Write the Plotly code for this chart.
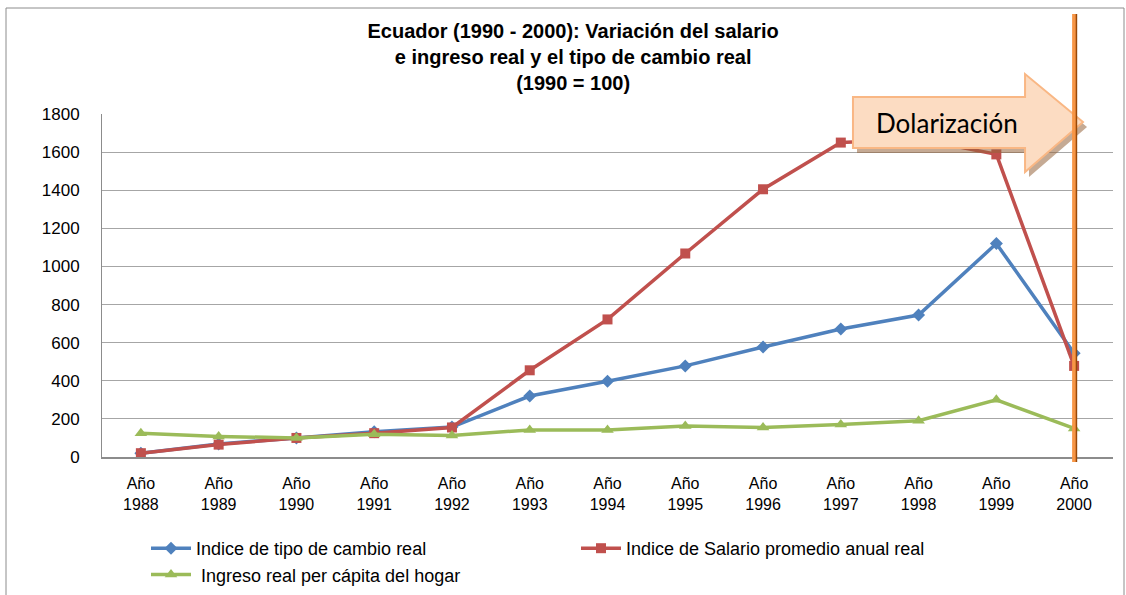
import plotly.graph_objects as go

# data (1990 = 100)
years = ["1988", "1989", "1990", "1991", "1992", "1993", "1994",
         "1995", "1996", "1997", "1998", "1999", "2000"]
tick_labels = ["Año<br>" + y for y in years]

tipo_cambio = [20, 68, 100, 132, 157, 320, 398, 478, 577, 672, 745, 1120, 545]
salario = [20, 65, 100, 125, 155, 455, 722, 1068, 1405, 1650, 1668, 1588, 478]
ingreso = [125, 108, 100, 120, 113, 142, 142, 163, 155, 170, 190, 300, 150]

x = list(range(len(years)))

# plot area in pixels -> paper helper for decorations
W, H = 1126, 595
L, R, T, B = 102, 1113, 114, 457


def px(xp):
    return (xp - L) / (R - L)


def py(yp):
    return (B - yp) / (B - T)


fig = go.Figure()
fig.add_trace(go.Scatter(x=x, y=tipo_cambio, name="Indice de tipo de cambio real",
                         mode="lines+markers",
                         line=dict(color="#4F81BD", width=3.5),
                         marker=dict(symbol="diamond", size=10, color="#4F81BD")))
fig.add_trace(go.Scatter(x=x, y=salario, name="Indice de Salario promedio anual real",
                         mode="lines+markers",
                         line=dict(color="#C0504D", width=3.5),
                         marker=dict(symbol="square", size=10, color="#C0504D")))
fig.add_trace(go.Scatter(x=x, y=ingreso, name=" Ingreso real per cápita del hogar",
                         mode="lines+markers",
                         line=dict(color="#9BBB59", width=3.5),
                         marker=dict(symbol="triangle-up", size=11, color="#9BBB59")))

# arrow "Dolarización"
arrow_pts = [(853, 97), (1025, 97), (1025, 74), (1083, 122), (1025, 172), (1025, 148), (853, 148)]


def path(pts, dx=0, dy=0):
    s = "M " + " L ".join(f"{px(a + dx):.4f},{py(b + dy):.4f}" for a, b in pts)
    return s + " Z"


shapes = [
    # outer chart border
    dict(type="rect", xref="paper", yref="paper", x0=px(6), x1=px(1124),
         y0=py(600), y1=py(8), line=dict(color="#8C8C8C", width=1), layer="below"),
    # shadow of arrow
    dict(type="path", xref="paper", yref="paper", path=path(arrow_pts, 4, 5),
         fillcolor="rgba(150,100,60,0.55)", line=dict(width=0)),
    dict(type="path", xref="paper", yref="paper", path=path(arrow_pts),
         fillcolor="#FCDCC2", line=dict(color="#F9B784", width=2)),
    # vertical dollarization line
    dict(type="line", xref="x", yref="paper", x0=12, x1=12, y0=py(462), y1=py(14),
         line=dict(color="#F79646", width=4)),
    dict(type="line", xref="x", yref="paper", x0=12.03, x1=12.03, y0=py(462), y1=py(14),
         line=dict(color="#984807", width=1.5)),
]

fig.update_layout(
    width=W, height=H,
    paper_bgcolor="white", plot_bgcolor="white",
    margin=dict(l=L, r=W - R, t=T, b=H - B, autoexpand=False),
    font=dict(family="Arial", size=17, color="black"),
    title=dict(text="<b>Ecuador (1990 - 2000): Variación del salario<br>"
                    "e ingreso real y el tipo de cambio real<br>(1990 = 100)</b>",
               x=0.509, xanchor="center", y=1 - 38 / H, yanchor="top",
               font=dict(size=20, family="Arial", color="black")),
    xaxis=dict(tickmode="array", tickvals=x, ticktext=tick_labels,
               range=[-0.5, 12.5], showgrid=False, showline=True,
               linecolor="#8C8C8C", linewidth=2, ticks="", zeroline=False,
               tickfont=dict(size=16), ticklabelstandoff=11),
    yaxis=dict(range=[0, 1800], dtick=200, showgrid=True, gridcolor="#A6A6A6",
               gridwidth=1, showline=True, linecolor="#8C8C8C", linewidth=1,
               zeroline=False, ticks="", tickfont=dict(size=17),
               ticklabelstandoff=18),
    legend=dict(orientation="h", x=px(146), xanchor="left", y=py(530),
                yanchor="top", entrywidth=375, font=dict(size=18),
                tracegroupgap=0, itemwidth=40),
    shapes=shapes,
    annotations=[dict(text="Dolarización", xref="paper", yref="paper",
                      x=px(947), y=py(123), xanchor="center", yanchor="middle",
                      showarrow=False,
                      font=dict(family="Lato", size=26, color="black"))],
    showlegend=True,
)

fig.write_html("out.html", config={"displayModeBar": False},
               post_script="document.body.style.margin='0';")
